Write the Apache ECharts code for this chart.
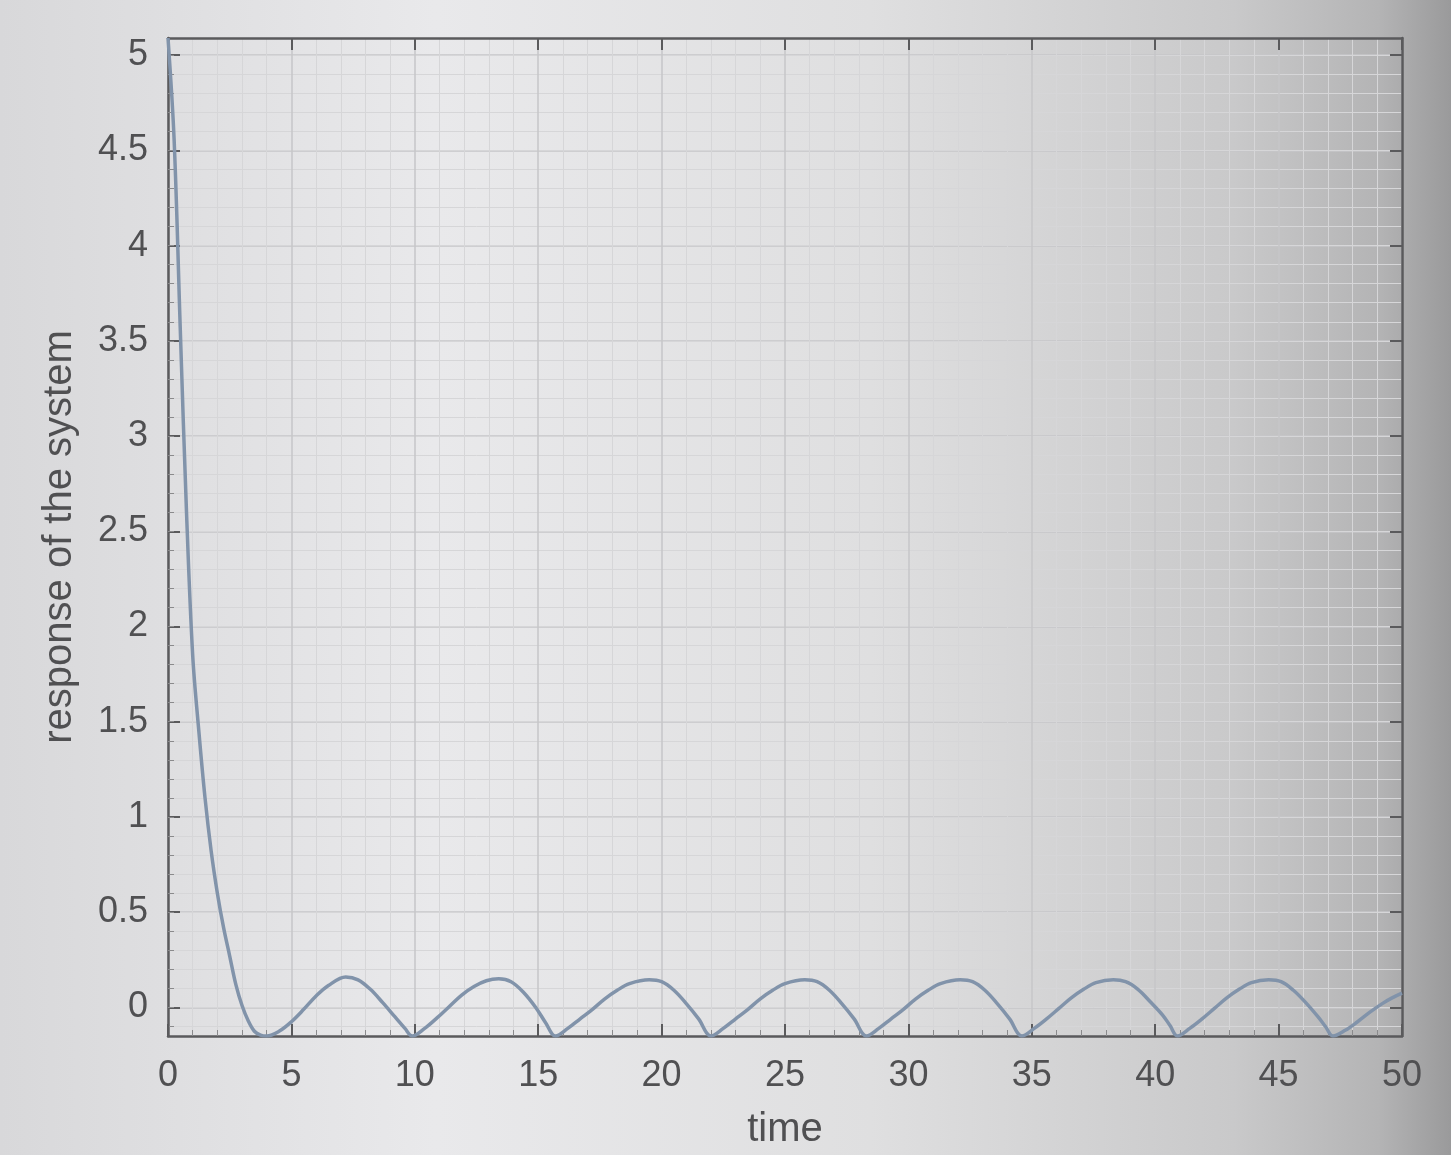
<!DOCTYPE html>
<html>
<head>
<meta charset="utf-8">
<script src="https://cdn.jsdelivr.net/npm/echarts@6/dist/echarts.min.js"></script>
<style>
html,body{margin:0;padding:0;background:#d6d6d8;}
#chart{width:1451px;height:1155px;}
</style>
</head>
<body>
<div id="chart"></div>
<script>
// time samples (s)
const time = [
  0, 0.25, 0.5, 0.75, 1.0, 1.25, 1.5, 1.75, 2.0, 2.25, 2.5, 2.75, 3.0, 3.25, 3.5, 3.75, 4.0,
  4.5, 5.0, 5.5, 6.0, 6.5, 7.2, 7.7, 8.2, 8.7, 9.2, 9.6, 9.9,
  10.4, 10.9, 11.4, 11.9, 12.4, 12.9, 13.4, 13.9, 14.4, 14.9, 15.3, 15.7,
  16.2, 16.7, 17.2, 17.7, 18.2, 18.7, 19.5, 20.0, 20.5, 21.0, 21.5, 22.0,
  22.5, 23.0, 23.5, 24.0, 24.5, 25.0, 25.8, 26.3, 26.8, 27.3, 27.8, 28.3,
  28.8, 29.3, 29.8, 30.3, 30.8, 31.3, 32.1, 32.6, 33.1, 33.6, 34.1, 34.6,
  35.1, 35.6, 36.1, 36.6, 37.1, 37.6, 38.3, 38.8, 39.3, 39.8, 40.3, 40.6, 40.9,
  41.4, 41.9, 42.4, 42.9, 43.4, 43.9, 44.6, 45.1, 45.6, 46.1, 46.6, 46.9, 47.2,
  47.7, 48.2, 48.7, 49.2, 49.6, 50
];
// response of the system
const response = [
  5.09, 4.55, 3.55, 2.6, 1.85, 1.45, 1.1, 0.82, 0.6, 0.42, 0.27, 0.12, 0.01, -0.07, -0.125, -0.145, -0.15,
  -0.125, -0.075, -0.01, 0.06, 0.115, 0.16, 0.145, 0.095, 0.025, -0.05, -0.11, -0.15,
  -0.11, -0.055, 0.005, 0.065, 0.11, 0.14, 0.15, 0.135, 0.08, 0.0, -0.08, -0.15,
  -0.11, -0.06, -0.01, 0.045, 0.09, 0.125, 0.145, 0.135, 0.09, 0.02, -0.06, -0.15,
  -0.11, -0.06, -0.01, 0.045, 0.09, 0.125, 0.145, 0.135, 0.09, 0.02, -0.06, -0.15,
  -0.11, -0.06, -0.01, 0.045, 0.09, 0.125, 0.145, 0.135, 0.09, 0.02, -0.06, -0.15,
  -0.11, -0.06, -0.005, 0.05, 0.095, 0.13, 0.145, 0.135, 0.095, 0.03, -0.04, -0.095, -0.15,
  -0.11, -0.06, -0.005, 0.05, 0.095, 0.13, 0.145, 0.135, 0.09, 0.025, -0.05, -0.1, -0.15,
  -0.12, -0.075, -0.025, 0.02, 0.05, 0.075
];
// axis ticks
const xTicks = [0, 5, 10, 15, 20, 25, 30, 35, 40, 45, 50];
const yTicks = [0, 0.5, 1, 1.5, 2, 2.5, 3, 3.5, 4, 4.5, 5];
const yMinMax = [-0.15, 5.09];
const xName = 'time';
const yName = 'response of the system';

// minor grid positions (subdivide major y ticks into 5)
const yMinor = [];
for (let i = -1; i <= 50; i++) yMinor.push(i / 10);

const chart = echarts.init(document.getElementById('chart'));
const FONT = '"Liberation Sans", Arial, Helvetica, sans-serif';
const axisCol = '#5a5a5c';
const textCol = '#505052';

chart.setOption({
  animation: false,
  backgroundColor: new echarts.graphic.LinearGradient(0, 0, 1, 0, [
    { offset: 0, color: '#d8d8da' },
    { offset: 0.3, color: '#e9e9eb' },
    { offset: 0.6, color: '#dfdfe0' },
    { offset: 0.85, color: '#c9c9ca' },
    { offset: 0.95, color: '#b4b4b5' },
    { offset: 1, color: '#9a9a9b' }
  ]),
  grid: { left: 168, right: 49, top: 38, bottom: 113 },
  xAxis: [
    {
      type: 'value', min: xTicks[0], max: xTicks[xTicks.length - 1], interval: 5,
      position: 'bottom',
      name: xName, nameLocation: 'middle', nameGap: 74,
      nameTextStyle: { fontFamily: FONT, fontSize: 40, color: textCol },
      axisLine: { show: true, onZero: false, lineStyle: { color: axisCol, width: 2.5 } },
      axisTick: { show: true, inside: true, length: 12, lineStyle: { color: axisCol, width: 2 } },
      minorTick: { show: true, splitNumber: 5, length: 6, lineStyle: { color: '#8a8a8c', width: 1 } },
      axisLabel: { fontFamily: FONT, fontSize: 36, color: textCol, margin: 22 },
      splitLine: { show: true, lineStyle: { color: '#c6c6c8', width: 1.5 } },
      minorSplitLine: { show: true, lineStyle: { color: '#d6d6d8', width: 1 } }
    },
    {
      type: 'value', min: xTicks[0], max: xTicks[xTicks.length - 1], interval: 5,
      position: 'top',
      axisLine: { show: true, onZero: false, lineStyle: { color: axisCol, width: 2.5 } },
      axisTick: { show: true, inside: true, length: 12, lineStyle: { color: axisCol, width: 2 } },
      axisLabel: { show: false },
      splitLine: { show: false }
    }
  ],
  yAxis: [
    {
      type: 'value', min: yMinMax[0], max: yMinMax[1], position: 'left',
      name: yName, nameLocation: 'middle', nameGap: 88, nameRotate: 90,
      nameTextStyle: { fontFamily: FONT, fontSize: 40, color: textCol },
      axisLine: { show: true, onZero: false, lineStyle: { color: axisCol, width: 2.5 } },
      axisTick: { show: true, inside: true, length: 12, customValues: yTicks, lineStyle: { color: axisCol, width: 2 } },
      axisLabel: { fontFamily: FONT, fontSize: 36, color: textCol, margin: 20, customValues: yTicks },
      splitLine: { show: true, lineStyle: { color: '#c6c6c8', width: 1.5 } }
    },
    {
      type: 'value', min: yMinMax[0], max: yMinMax[1], position: 'right',
      axisLine: { show: true, onZero: false, lineStyle: { color: axisCol, width: 2.5 } },
      axisTick: { show: true, inside: true, length: 12, customValues: yTicks, lineStyle: { color: axisCol, width: 2 } },
      axisLabel: { show: false },
      splitLine: { show: false }
    },
    {
      type: 'value', min: yMinMax[0], max: yMinMax[1], position: 'left',
      axisLine: { show: false },
      axisTick: { show: true, inside: true, length: 6, customValues: yMinor, lineStyle: { color: '#8a8a8c', width: 1 } },
      axisLabel: { show: false },
      splitLine: { show: true, lineStyle: { color: '#d6d6d8', width: 1 } }
    }
  ],
  series: [
    {
      type: 'line',
      xAxisIndex: 0, yAxisIndex: 0,
      data: time.map((t, i) => [t, response[i]]),
      showSymbol: false,
      smooth: 0.35,
      lineStyle: { color: '#8193aa', width: 3.5 },
      z: 5
    }
  ]
});
</script>
</body>
</html>
